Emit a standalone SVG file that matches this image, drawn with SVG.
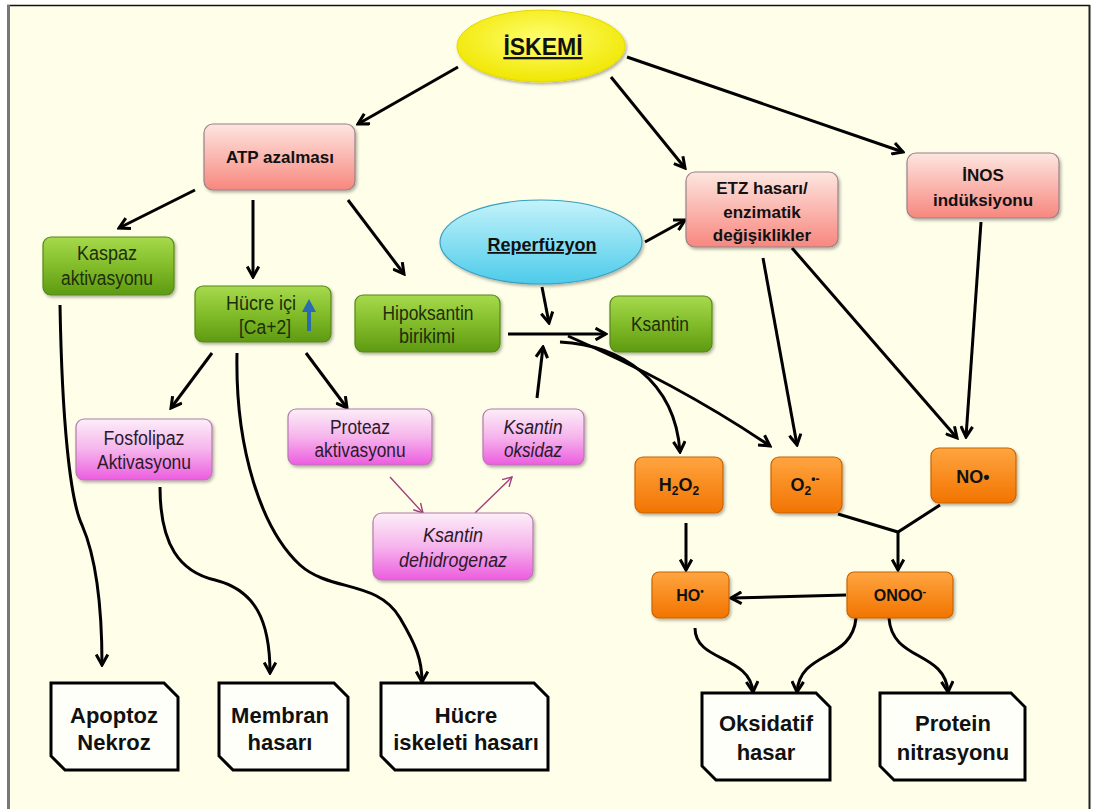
<svg xmlns="http://www.w3.org/2000/svg" width="1093" height="809" viewBox="0 0 1093 809">
<defs>
<linearGradient id="gPink" x1="0" y1="0" x2="0" y2="1"><stop offset="0" stop-color="#FDE6E0"/><stop offset="1" stop-color="#F7877E"/></linearGradient>
<linearGradient id="gGreen" x1="0" y1="0" x2="0" y2="1"><stop offset="0" stop-color="#A6DA4C"/><stop offset="0.5" stop-color="#82BC2A"/><stop offset="1" stop-color="#5E9A12"/></linearGradient>
<linearGradient id="gMag" x1="0" y1="0" x2="0" y2="1"><stop offset="0" stop-color="#FCEEF8"/><stop offset="0.5" stop-color="#F6B4EC"/><stop offset="1" stop-color="#EC5CDF"/></linearGradient>
<linearGradient id="gOr" x1="0" y1="0" x2="0" y2="1"><stop offset="0" stop-color="#FFA541"/><stop offset="1" stop-color="#F27400"/></linearGradient>
<radialGradient id="gYel" cx="0.5" cy="0.4" r="0.6"><stop offset="0" stop-color="#FFFF70"/><stop offset="1" stop-color="#F0E600"/></radialGradient>
<linearGradient id="gCyan" x1="0" y1="0" x2="0" y2="1"><stop offset="0" stop-color="#C4F3FB"/><stop offset="1" stop-color="#4DCBEA"/></linearGradient>
<filter id="sh" x="-10%" y="-10%" width="125%" height="130%"><feDropShadow dx="1.5" dy="2" stdDeviation="1.5" flood-color="#000" flood-opacity="0.3"/></filter>
<marker id="ah" viewBox="0 0 12 12" refX="10" refY="6" markerWidth="14" markerHeight="14" markerUnits="userSpaceOnUse" orient="auto"><path d="M1,1 L10,6 L1,11" fill="none" stroke="#000" stroke-width="2.6"/></marker>
<marker id="ahp" viewBox="0 0 12 12" refX="10" refY="6" markerWidth="12" markerHeight="12" markerUnits="userSpaceOnUse" orient="auto"><path d="M1,1 L10,6 L1,11" fill="none" stroke="#A0407E" stroke-width="1.4"/></marker>
<style>
.pink{fill:url(#gPink);stroke:#9A8088;stroke-width:1.2;filter:url(#sh)}
.green{fill:url(#gGreen);stroke:#56881A;stroke-width:1.2;filter:url(#sh)}
.mag{fill:url(#gMag);stroke:#B47AAE;stroke-width:1.2;filter:url(#sh)}
.or{fill:url(#gOr);stroke:#C86400;stroke-width:1.2;filter:url(#sh)}
.term{fill:#FFFFFA;stroke:#000;stroke-width:3}
.t{font-family:"Liberation Sans",Arial,sans-serif;text-anchor:middle}
.b17{font-size:17px;font-weight:bold;fill:#111}
.g17{font-size:20px;fill:#1E2E0A}
.m17{font-size:20px;fill:#2A1A2A}
.i17{font-size:20px;font-style:italic;fill:#2A1A2A}
.o16{font-size:18px;font-weight:bold;fill:#111}
.big{font-size:22px;font-weight:bold;fill:#111}
.ln{fill:none;stroke:#000;stroke-width:3;marker-end:url(#ah)}
.ln0{fill:none;stroke:#000;stroke-width:3}
.lp{fill:none;stroke:#A0407E;stroke-width:1.4;marker-end:url(#ahp)}
</style>
</defs>
<rect x="0" y="0" width="1093" height="809" fill="#FFFFFF"/>
<rect x="8" y="5" width="1081" height="810" fill="#FFFEE8"/>
<line x1="7" y1="5.5" x2="1090" y2="5.5" stroke="#111" stroke-width="1.5"/>
<line x1="8.5" y1="5" x2="8.5" y2="809" stroke="#777" stroke-width="3"/>
<line x1="1089.5" y1="5" x2="1089.5" y2="809" stroke="#222" stroke-width="2"/>

<g id="connectors">
<path class="ln" d="M458,67 L358,124"/>
<path class="ln" d="M611,77 L685,168"/>
<path class="ln" d="M627,57 L903,152"/>
<path class="ln" d="M195,190 L119,228"/>
<path class="ln" d="M253,200 L253,277"/>
<path class="ln" d="M348,200 L404,274"/>
<path class="ln" d="M645,242 L685,220"/>
<path class="ln" d="M542,287 L549,323"/>
<path class="ln" d="M508,334 L606,334"/>
<path class="ln" d="M537,398 L543,347"/>
<path class="ln" d="M560,342 C620,345 675,380 680,452"/>
<path class="ln" d="M568,336 Q680,385 770,446"/>
<path class="ln" d="M763,258 L797,445"/>
<path class="ln" d="M792,248 L957,438"/>
<path class="ln" d="M981,222 L966,437"/>
<path class="ln0" d="M838,514 L898,532 L940,505"/>
<path class="ln" d="M898,532 L898,570"/>
<path class="ln" d="M686,523 L686,570"/>
<path class="ln" d="M846,595 L731,598"/>
<path class="ln" d="M695,628 C695,662 750,655 753,692"/>
<path class="ln" d="M856,618 C852,662 800,650 797,692"/>
<path class="ln" d="M889,618 C892,662 945,650 948,692"/>
<path class="ln" d="M212,353 L171,408"/>
<path class="ln" d="M306,353 L347,408"/>
<path class="ln" d="M60,305 C62,420 70,500 82,525 C95,555 102,600 102,665"/>
<path class="ln" d="M160,487 C160,545 180,572 215,580 C255,590 270,620 270,673"/>
<path class="ln" d="M237,353 C235,450 262,530 300,565 C330,592 378,580 400,618 C416,645 422,660 422,682"/>
<path class="lp" d="M390,477 L423,513"/>
<path class="lp" d="M475,513 L512,477"/>
</g>

<g id="iskemi">
<ellipse cx="541" cy="46" rx="84" ry="36" fill="url(#gYel)" stroke="#E6D800" stroke-width="1" filter="url(#sh)"/>
<text class="t" x="543" y="55" style="font-size:23px;font-weight:bold;text-decoration:underline" fill="#111">İSKEMİ</text>
</g>
<g id="atp">
<rect class="pink" x="204" y="124" width="151" height="66" rx="9"/>
<text class="t b17" x="280" y="163">ATP azalması</text>
</g>
<g id="etz">
<rect class="pink" x="686" y="172" width="152" height="75" rx="9"/>
<text class="t b17" x="762" y="194">ETZ hasarı/</text>
<text class="t b17" x="762" y="218">enzimatik</text>
<text class="t b17" x="762" y="241">değişiklikler</text>
</g>
<g id="inos">
<rect class="pink" x="907" y="153" width="152" height="65" rx="9"/>
<text class="t b17" x="983" y="181">İNOS</text>
<text class="t b17" x="983" y="206">indüksiyonu</text>
</g>
<g id="reperfuzyon">
<ellipse cx="541" cy="242" rx="101" ry="42" fill="url(#gCyan)" stroke="#3A9FC0" stroke-width="1.2" filter="url(#sh)"/>
<text class="t" x="542" y="251" style="font-size:18px;font-weight:bold;text-decoration:underline" fill="#111">Reperfüzyon</text>
</g>
<g id="kaspaz">
<rect class="green" x="43" y="237" width="131" height="58" rx="8"/>
<text class="t g17" x="107" y="260" textLength="60" lengthAdjust="spacingAndGlyphs">Kaspaz</text>
<text class="t g17" x="107" y="285" textLength="92" lengthAdjust="spacingAndGlyphs">aktivasyonu</text>
</g>
<g id="hucre-ici">
<rect class="green" x="195" y="286" width="136" height="56" rx="8"/>
<text class="t g17" x="261" y="310" textLength="70" lengthAdjust="spacingAndGlyphs">Hücre içi</text>
<text class="t g17" x="265" y="334" textLength="52" lengthAdjust="spacingAndGlyphs">[Ca+2]</text>
<path d="M309,331 L309,309" stroke="#2B6CB0" stroke-width="4"/>
<path d="M302,312 L309,299 L316,312 Z" fill="#2B6CB0"/>
</g>
<g id="hipoksantin">
<rect class="green" x="355" y="295" width="145" height="57" rx="8"/>
<text class="t g17" x="428" y="320" textLength="91" lengthAdjust="spacingAndGlyphs">Hipoksantin</text>
<text class="t g17" x="427" y="343" textLength="56" lengthAdjust="spacingAndGlyphs">birikimi</text>
</g>
<g id="ksantin">
<rect class="green" x="610" y="296" width="102" height="56" rx="8"/>
<text class="t g17" x="660" y="331" textLength="58" lengthAdjust="spacingAndGlyphs">Ksantin</text>
</g>
<g id="fosfolipaz">
<rect class="mag" x="76" y="419" width="136" height="61" rx="8"/>
<text class="t m17" x="144" y="445" textLength="81" lengthAdjust="spacingAndGlyphs">Fosfolipaz</text>
<text class="t m17" x="144" y="469" textLength="94" lengthAdjust="spacingAndGlyphs">Aktivasyonu</text>
</g>
<g id="proteaz">
<rect class="mag" x="288" y="409" width="144" height="56" rx="8"/>
<text class="t m17" x="360" y="434" textLength="60" lengthAdjust="spacingAndGlyphs">Proteaz</text>
<text class="t m17" x="360" y="457" textLength="91" lengthAdjust="spacingAndGlyphs">aktivasyonu</text>
</g>
<g id="ksantin-oksidaz">
<rect class="mag" x="483" y="409" width="101" height="56" rx="8"/>
<text class="t i17" x="533" y="434" textLength="59" lengthAdjust="spacingAndGlyphs">Ksantin</text>
<text class="t i17" x="533" y="457" textLength="58" lengthAdjust="spacingAndGlyphs">oksidaz</text>
</g>
<g id="ksantin-dehidrogenaz">
<rect class="mag" x="373" y="513" width="160" height="67" rx="9"/>
<text class="t i17" x="453" y="542" textLength="60" lengthAdjust="spacingAndGlyphs">Ksantin</text>
<text class="t i17" x="453" y="567" textLength="108" lengthAdjust="spacingAndGlyphs">dehidrogenaz</text>
</g>
<g id="h2o2">
<rect class="or" x="635" y="457" width="88" height="56" rx="8"/>
<text class="t o16" x="679" y="491">H<tspan font-size="12" dy="4">2</tspan><tspan dy="-4">O</tspan><tspan font-size="12" dy="4">2</tspan></text>
</g>
<g id="o2">
<rect class="or" x="771" y="457" width="71" height="56" rx="8"/>
<text class="t o16" x="805" y="491">O<tspan font-size="12" dy="4">2</tspan><tspan font-size="12" dy="-12">•-</tspan></text>
</g>
<g id="no">
<rect class="or" x="931" y="448" width="85" height="55" rx="8"/>
<text class="t o16" x="973" y="483">NO•</text>
</g>
<g id="ho">
<rect class="or" x="652" y="572" width="77" height="46" rx="7"/>
<text class="t" x="690" y="601" style="font-size:16px;font-weight:bold" fill="#111">HO<tspan font-size="10" dy="-6">•</tspan></text>
</g>
<g id="onoo">
<rect class="or" x="847" y="572" width="106" height="46" rx="7"/>
<text class="t" x="900" y="601" style="font-size:16px;font-weight:bold" fill="#111">ONOO<tspan font-size="11" dy="-6">-</tspan></text>
</g>
<g id="apoptoz">
<path class="term" d="M51,683 H164 L178,697 V770 H65 L51,756 Z"/>
<text class="t big" x="114" y="723">Apoptoz</text>
<text class="t big" x="114" y="750">Nekroz</text>
</g>
<g id="membran">
<path class="term" d="M219,683 H334 L348,697 V770 H233 L219,756 Z"/>
<text class="t big" x="280" y="723">Membran</text>
<text class="t big" x="280" y="750">hasarı</text>
</g>
<g id="iskelet">
<path class="term" d="M381,683 H534 L548,697 V770 H395 L381,756 Z"/>
<text class="t big" x="466" y="723">Hücre</text>
<text class="t big" x="466" y="750">iskeleti hasarı</text>
</g>
<g id="oksidatif">
<path class="term" d="M702,693 H816 L830,707 V780 H716 L702,766 Z"/>
<text class="t big" x="766" y="731">Oksidatif</text>
<text class="t big" x="766" y="760">hasar</text>
</g>
<g id="protein">
<path class="term" d="M880,693 H1011 L1025,707 V780 H894 L880,766 Z"/>
<text class="t big" x="953" y="731">Protein</text>
<text class="t big" x="953" y="760">nitrasyonu</text>
</g>
</svg>
